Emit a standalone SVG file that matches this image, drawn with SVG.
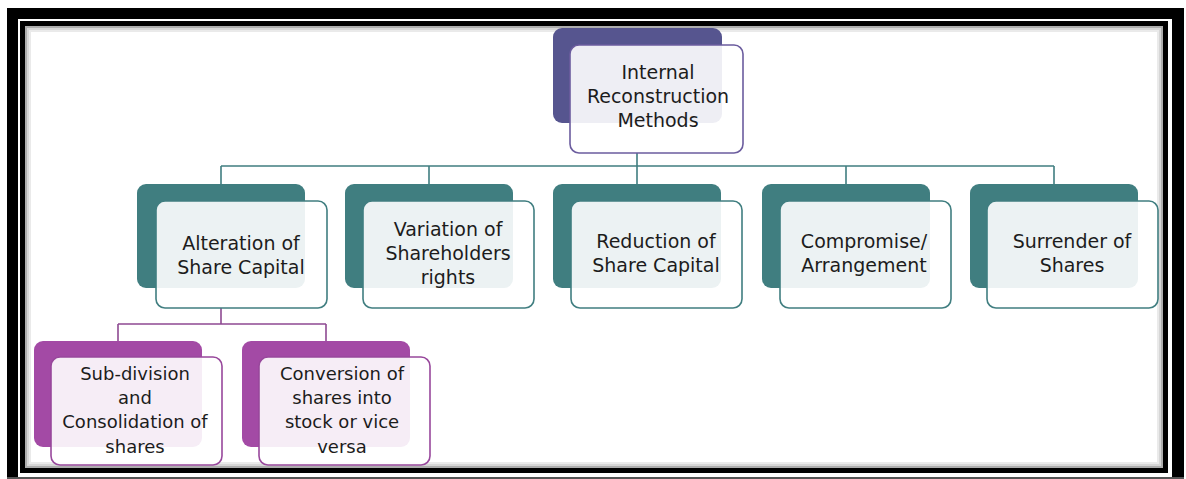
<svg xmlns="http://www.w3.org/2000/svg" width="1186" height="479" viewBox="0 0 1186 479">
  <style>
    .t { font-family: "DejaVu Sans", "Liberation Sans", sans-serif; font-size: 19px; fill: #1c1c1c; text-anchor: middle; }
    .t3 { font-size: 18px; }
    .backT { fill: #407e80; }
    .frontT { fill: #ffffff; fill-opacity: 0.9; stroke: #407e80; stroke-width: 1.6; }
    .backP { fill: #56558f; }
    .frontP { fill: #ffffff; fill-opacity: 0.9; stroke: #6b5c9e; stroke-width: 1.6; }
    .backM { fill: #a34aa5; }
    .frontM { fill: #ffffff; fill-opacity: 0.9; stroke: #98489c; stroke-width: 1.6; }
    .cT { fill: none; stroke: #407e80; stroke-width: 1.6; }
    .cM { fill: none; stroke: #8e4a92; stroke-width: 1.6; }
  </style>

  <!-- frame -->
  <g id="frame">
    <rect x="0" y="0" width="1186" height="479" fill="#ffffff"/>
    <path d="M7,8 H1184 V479 H7 Z M18,19 V477 H1172 V19 Z" fill="#000000" fill-rule="evenodd"/>
    <rect x="7" y="477" width="1177" height="2" fill="#555555"/>
    <rect x="18" y="19" width="1154" height="458" fill="#ffffff"/>
    <rect x="22.5" y="23.5" width="1143" height="447" fill="none" stroke="#000000" stroke-width="5"/>
    <rect x="26" y="27" width="1136" height="440" fill="none" stroke="#777777" stroke-width="2" opacity="0.6"/>
    <rect x="28" y="29" width="1132" height="436" fill="none" stroke="#999999" stroke-width="2" opacity="0.4"/>
    <rect x="30" y="31" width="1128" height="432" fill="none" stroke="#bbbbbb" stroke-width="2" opacity="0.3"/>
  </g>

  <!-- connectors -->
  <g id="connectors">
    <path class="cT" d="M637,153 V166 M221,166 H1054 M221,166 V184 M429,166 V184 M637,166 V184 M846,166 V184 M1054,166 V184"/>
    <path class="cM" d="M221,308 V324 M118,324 H326 M118,324 V341 M326,324 V341"/>
  </g>

  <!-- top node -->
  <g id="node-internal">
    <rect class="backP" x="553" y="28" width="169" height="95" rx="9"/>
    <rect class="frontP" x="570" y="45" width="173" height="108" rx="9"/>
    <text class="t" x="658" y="79">Internal</text>
    <text class="t" x="658" y="103">Reconstruction</text>
    <text class="t" x="658" y="127">Methods</text>
  </g>

  <g id="node-alteration">
    <rect class="backT" x="137" y="184" width="168" height="104" rx="9"/>
    <rect class="frontT" x="156" y="201" width="171" height="107" rx="9"/>
    <text class="t" x="241" y="250">Alteration of</text>
    <text class="t" x="241" y="274">Share Capital</text>
  </g>

  <g id="node-variation">
    <rect class="backT" x="345" y="184" width="168" height="104" rx="9"/>
    <rect class="frontT" x="363" y="201" width="171" height="107" rx="9"/>
    <text class="t" x="448" y="236">Variation of</text>
    <text class="t" x="448" y="260">Shareholders</text>
    <text class="t" x="448" y="284">rights</text>
  </g>

  <g id="node-reduction">
    <rect class="backT" x="553" y="184" width="168" height="104" rx="9"/>
    <rect class="frontT" x="571" y="201" width="171" height="107" rx="9"/>
    <text class="t" x="656" y="248">Reduction of</text>
    <text class="t" x="656" y="272">Share Capital</text>
  </g>

  <g id="node-compromise">
    <rect class="backT" x="762" y="184" width="168" height="104" rx="9"/>
    <rect class="frontT" x="780" y="201" width="171" height="107" rx="9"/>
    <text class="t" x="864" y="248">Compromise/</text>
    <text class="t" x="864" y="272">Arrangement</text>
  </g>

  <g id="node-surrender">
    <rect class="backT" x="970" y="184" width="168" height="104" rx="9"/>
    <rect class="frontT" x="987" y="201" width="171" height="107" rx="9"/>
    <text class="t" x="1072" y="248">Surrender of</text>
    <text class="t" x="1072" y="272">Shares</text>
  </g>

  <g id="node-subdivision">
    <rect class="backM" x="34" y="341" width="168" height="106" rx="9"/>
    <rect class="frontM" x="51" y="357" width="171" height="108" rx="9"/>
    <text class="t t3" x="135" y="380">Sub-division</text>
    <text class="t t3" x="135" y="404">and</text>
    <text class="t t3" x="135" y="428">Consolidation of</text>
    <text class="t t3" x="135" y="453">shares</text>
  </g>

  <g id="node-conversion">
    <rect class="backM" x="242" y="341" width="168" height="106" rx="9"/>
    <rect class="frontM" x="259" y="357" width="171" height="108" rx="9"/>
    <text class="t t3" x="342" y="380">Conversion of</text>
    <text class="t t3" x="342" y="404">shares into</text>
    <text class="t t3" x="342" y="428">stock or vice</text>
    <text class="t t3" x="342" y="453">versa</text>
  </g>
</svg>
